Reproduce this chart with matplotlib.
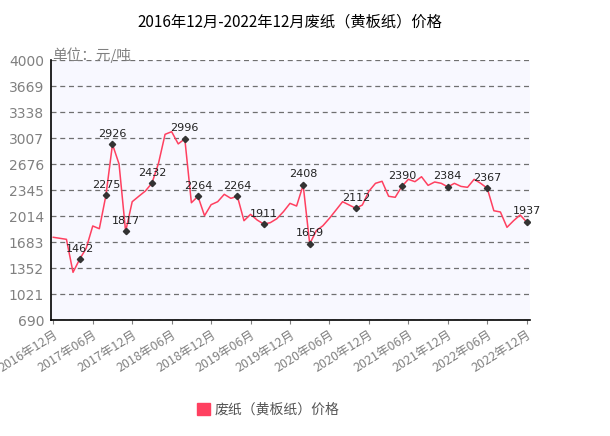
import matplotlib
matplotlib.use('Agg')
import matplotlib.pyplot as plt
from matplotlib.patches import Patch

plt.rcParams['font.family'] = ['Noto Sans CJK SC', 'DejaVu Sans']

# monthly price, 2016-12 .. 2022-12 (yuan / ton)
prices = [1743, 1730, 1717, 1297, 1462, 1603, 1887, 1852, 2275, 2926,
          2676, 1817, 2196, 2265, 2332, 2432, 2685, 3054, 3087, 2932,
          2996, 2183, 2264, 2018, 2158, 2196, 2290, 2239, 2264, 1954,
          2035, 1963, 1911, 1929, 1980, 2069, 2175, 2141, 2408, 1659,
          1827, 1890, 1985, 2090, 2196, 2154, 2112, 2154, 2330, 2430,
          2456, 2265, 2252, 2390, 2481, 2451, 2514, 2404, 2447, 2430,
          2384, 2430, 2391, 2379, 2481, 2430, 2367, 2081, 2065, 1870,
          1954, 2027, 1937]
# months that carry a value label
marked = [4, 8, 9, 11, 15, 20, 22, 28, 32, 38, 39, 46, 53, 60, 66, 72]

tick_pos = list(range(0, 73, 6))
tick_labels = ['2016年12月', '2017年06月', '2017年12月', '2018年06月',
               '2018年12月', '2019年06月', '2019年12月', '2020年06月',
               '2020年12月', '2021年06月', '2021年12月', '2022年06月',
               '2022年12月']
y_ticks = [690, 1021, 1352, 1683, 2014, 2345, 2676, 3007, 3338, 3669, 4000]

fig = plt.figure(figsize=(6.1, 4.36), dpi=100)
ax = fig.add_axes([51 / 610, 116 / 436, 479 / 610, 260 / 436])
ax.set_facecolor('#f8f8ff')

x = list(range(len(prices)))
ax.plot(x, prices, color='#ff4060', lw=1.1)
ax.plot(marked, [prices[i] for i in marked], ls='none', marker='D',
        ms=3.2, color='#333333')
for i in marked:
    ax.annotate(str(prices[i]), (i, prices[i]), xytext=(0, 4),
                textcoords='offset points', ha='center', va='bottom',
                fontsize=8, color='#222222', family='DejaVu Sans')

ax.set_xlim(-0.35, 72.5)
ax.set_ylim(690, 4000)
ax.set_yticks(y_ticks)
ax.set_yticklabels([str(v) for v in y_ticks], fontsize=10, color='#808080',
                   family='DejaVu Sans')
ax.tick_params(axis='y', length=0, pad=5)
ax.set_xticks(tick_pos)
ax.set_xticklabels(tick_labels, rotation=32, ha='right',
                   rotation_mode='anchor', fontsize=9, color='#808080')
ax.tick_params(axis='x', length=3, color='#808080', pad=3)

ax.grid(axis='y', ls=(0, (4, 3)), color='#707070', lw=0.9)
ax.grid(axis='x', visible=False)
for s in ['top', 'right']:
    ax.spines[s].set_visible(False)
for s in ['left', 'bottom']:
    ax.spines[s].set_color('black')
    ax.spines[s].set_linewidth(1.2)

fig.text(52 / 610, 1 - 55 / 436, '单位：元/吨', fontsize=10.5, color='#808080',
         ha='left', va='center')
fig.text(290 / 610, 1 - 22 / 436, '2016年12月-2022年12月废纸（黄板纸）价格',
         fontsize=11, color='black', ha='center', va='center')

fig.legend(handles=[Patch(color='#ff4060', label='废纸（黄板纸）价格')],
           loc='center', bbox_to_anchor=(268 / 610, 1 - 410 / 436),
           frameon=False, fontsize=10, handlelength=1.0, handleheight=1.0,
           handletextpad=0.3, labelcolor='#555555')

fig.savefig('out.png', dpi=100)
